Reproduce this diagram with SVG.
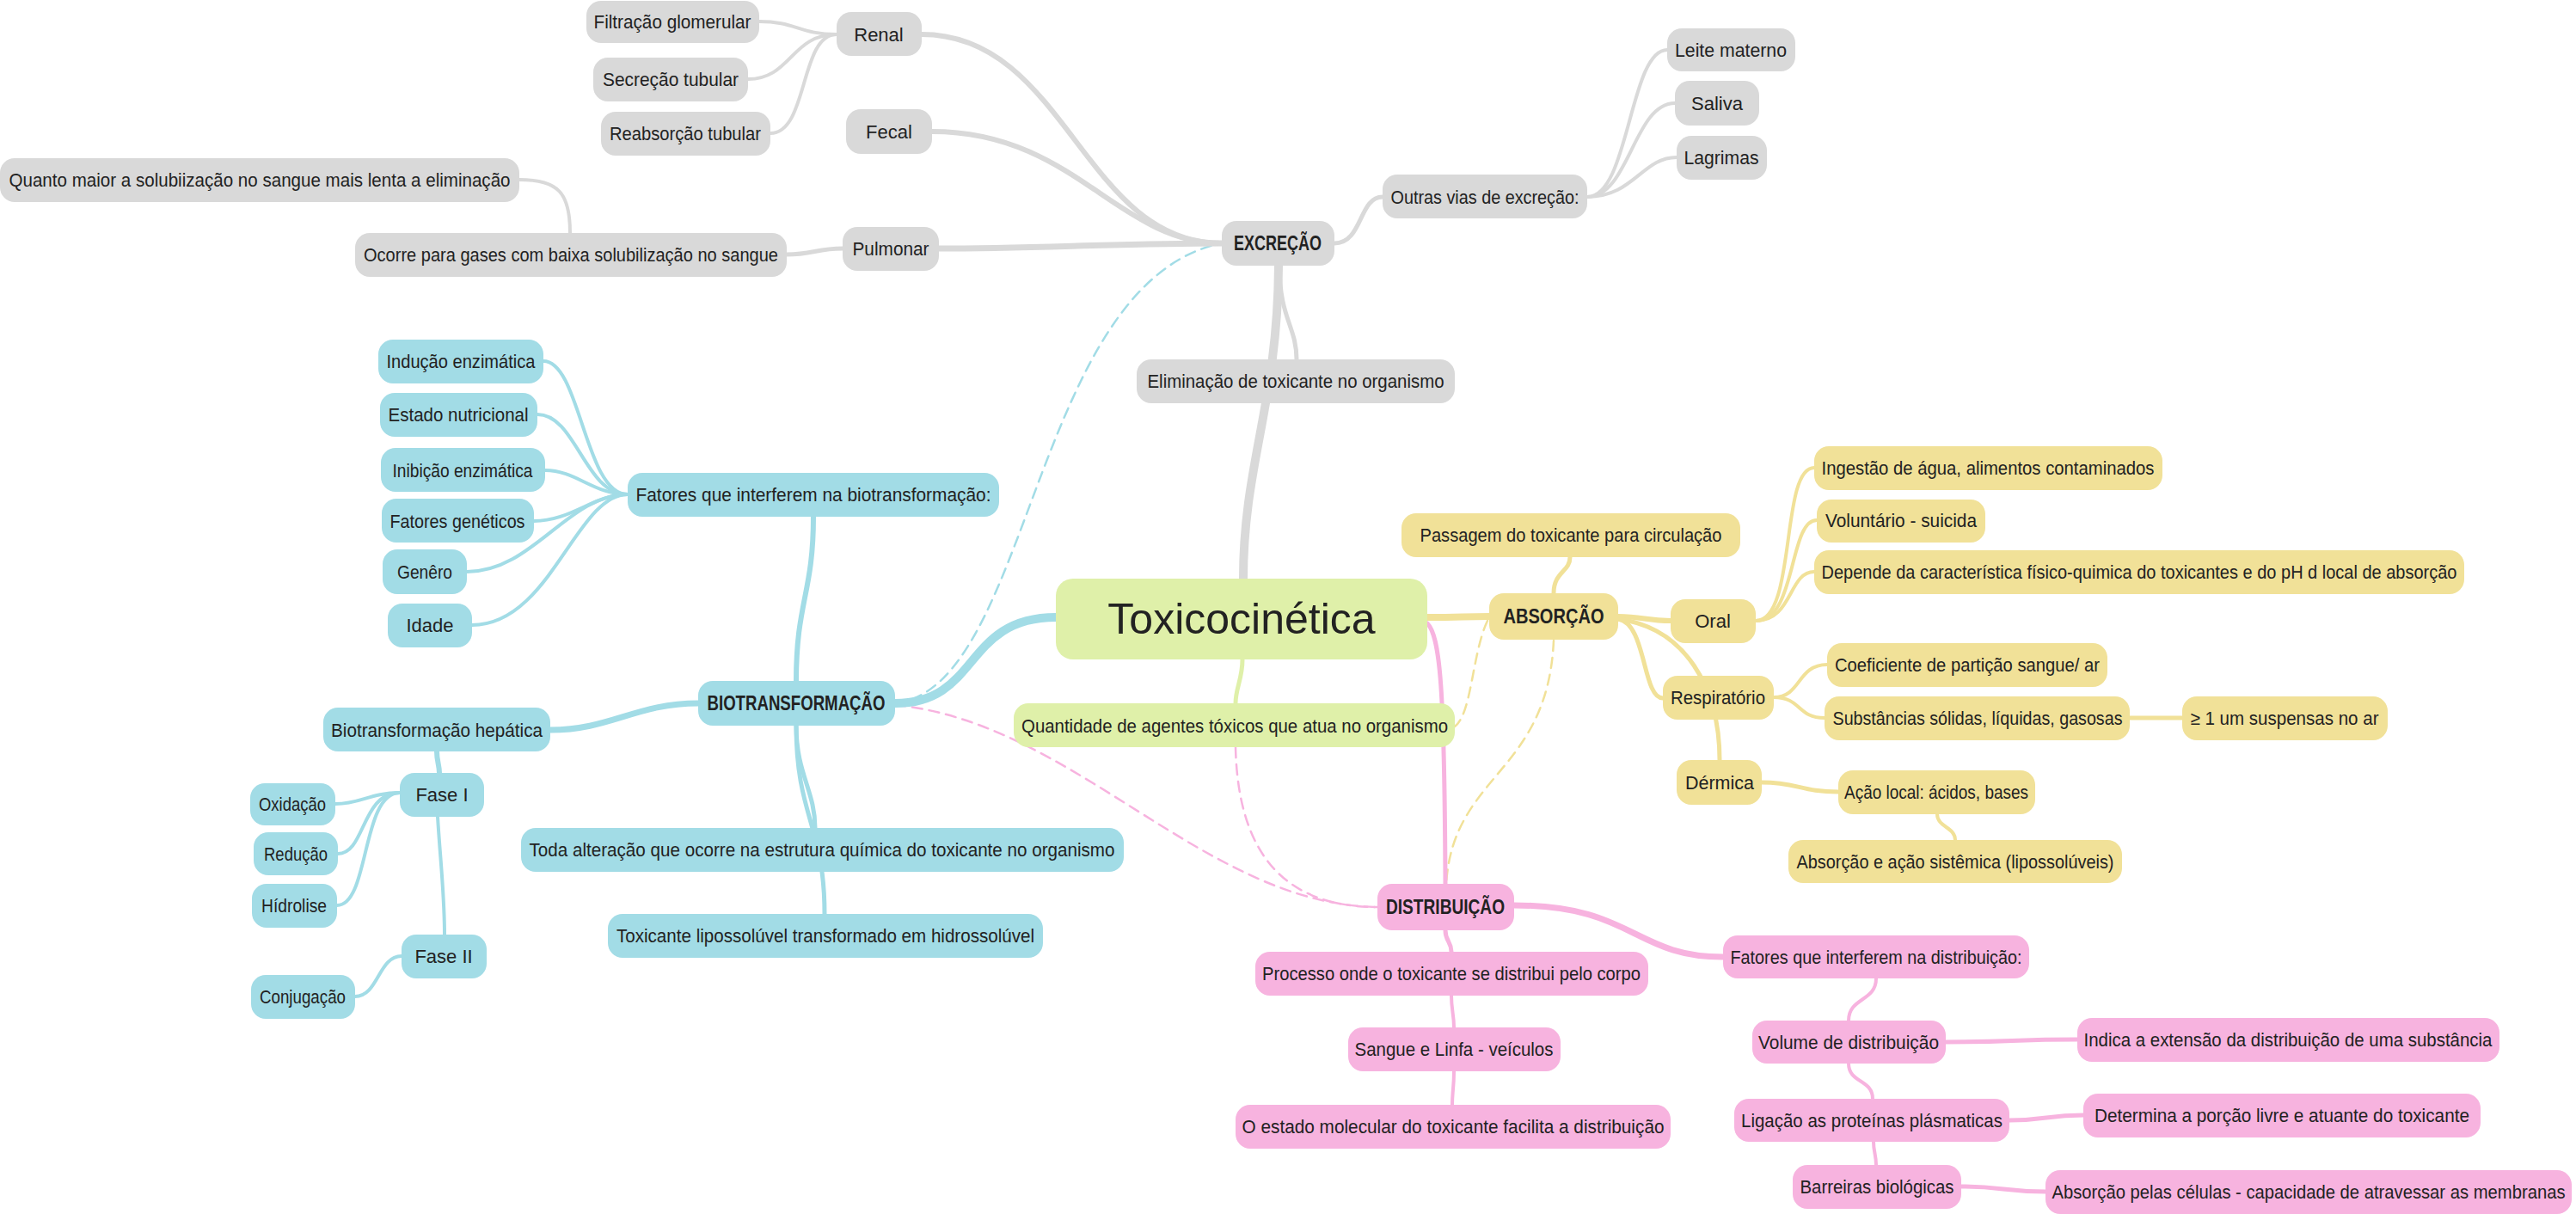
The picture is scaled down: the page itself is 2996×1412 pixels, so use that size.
<svg xmlns="http://www.w3.org/2000/svg" width="2996" height="1412" viewBox="0 0 2996 1412">
<style>
text{font-family:"Liberation Sans",Arial,sans-serif;font-size:22px;fill:#222;text-anchor:middle;dominant-baseline:central}
.h{font-weight:bold;font-size:23px}
.t{font-size:50px}
.g rect{fill:#d9d9d9}
.b rect{fill:#a2dce6}
.gr rect{fill:#dff0a9}
.y rect{fill:#f1e198}
.p rect{fill:#f7b3df}
path{fill:none;stroke-linecap:round}
.cg{stroke:#d9d9d9}
.cb{stroke:#a2dce6}
.cgr{stroke:#dff0a9}
.cy{stroke:#f1e198}
.cp{stroke:#f7b3df}
.d{stroke-width:2.5;stroke-dasharray:12 8}
</style>
<rect width="2996" height="1412" fill="#fff"/>
<g id="connectors">
<path class="cb d" d="M1041,818 C1200,800 1200,330 1420,283"/>
<path class="cp d" d="M1041,820 C1250,840 1400,1052 1602,1055"/>
<path class="cp d" d="M1437,869 C1440,1000 1500,1055 1602,1055"/>
<path class="cy d" d="M1730,722 C1712,760 1712,830 1692,845"/>
<path class="cy d" d="M1807,745 C1800,900 1690,900 1682,1028"/>
<path class="cg" stroke-width="10" d="M1446,673 C1446,540 1486,470 1487,309"/>
<path class="cg" stroke-width="5" d="M1488,309 C1488,370 1508,380 1508,418"/>
<path class="cg" stroke-width="7" d="M1421,283 C1300,283 1200,289 1092,289"/>
<path class="cg" stroke-width="6" d="M1421,283 C1300,283 1250,153 1084,153"/>
<path class="cg" stroke-width="6" d="M1421,283 C1260,283 1240,40 1072,40"/>
<path class="cg" stroke-width="5" d="M1552,283 C1585,283 1580,229 1608,229"/>
<path class="cg" stroke-width="4" d="M1846,229 C1895,229 1895,58 1939,58"/>
<path class="cg" stroke-width="4" d="M1846,229 C1895,229 1900,120 1948,120"/>
<path class="cg" stroke-width="4" d="M1846,229 C1900,229 1910,183 1950,183"/>
<path class="cg" stroke-width="4" d="M973,40 C930,40 925,25 883,25"/>
<path class="cg" stroke-width="4" d="M973,40 C920,40 920,92 870,92"/>
<path class="cg" stroke-width="4" d="M973,40 C930,40 940,155 896,155"/>
<path class="cg" stroke-width="5" d="M980,289 C950,289 945,296 915,296"/>
<path class="cg" stroke-width="4" d="M663,271 C663,225 650,209 604,209"/>
<path class="cb" stroke-width="10" d="M1228,718 C1120,718 1140,818 1041,818"/>
<path class="cb" stroke-width="6" d="M926,792 C926,700 946,690 946,601"/>
<path class="cb" stroke-width="4" d="M730,575 C680,575 675,420 632,420"/>
<path class="cb" stroke-width="4" d="M730,575 C680,575 670,482 625,482"/>
<path class="cb" stroke-width="4" d="M730,575 C690,575 670,547 634,547"/>
<path class="cb" stroke-width="4" d="M730,575 C690,575 665,606 621,606"/>
<path class="cb" stroke-width="4" d="M730,575 C660,575 620,665 543,665"/>
<path class="cb" stroke-width="4" d="M730,575 C670,575 640,727 549,727"/>
<path class="cb" stroke-width="7" d="M812,818 C740,818 710,849 640,849"/>
<path class="cb" stroke-width="5" d="M926,844 C926,900 948,920 948,963"/>
<path class="cb" stroke-width="5" d="M926,844 C926,950 959,960 959,1063"/>
<path class="cb" stroke-width="6" d="M508,874 C508,885 511,890 511,899"/>
<path class="cb" stroke-width="4" d="M509,950 C512,1000 517,1040 517,1087"/>
<path class="cb" stroke-width="4" d="M465,922 C430,922 420,935 390,935"/>
<path class="cb" stroke-width="4" d="M465,922 C420,922 425,993 393,993"/>
<path class="cb" stroke-width="4" d="M465,922 C420,922 430,1053 392,1053"/>
<path class="cb" stroke-width="4" d="M467,1112 C440,1112 440,1159 413,1159"/>
<path class="cgr" stroke-width="5" d="M1445,767 C1445,790 1437,800 1437,818"/>
<path class="cy" stroke-width="8" d="M1660,718 C1700,718 1700,717 1732,717"/>
<path class="cy" stroke-width="5" d="M1807,690 C1807,665 1826,665 1826,648"/>
<path class="cy" stroke-width="6" d="M1882,717 C1910,717 1915,722 1943,722"/>
<path class="cy" stroke-width="5" d="M1882,720 C1915,725 1910,812 1934,812"/>
<path class="cy" stroke-width="5" d="M1882,720 C1960,730 2000,800 2000,884"/>
<path class="cy" stroke-width="4" d="M2042,722 C2090,722 2070,544 2110,544"/>
<path class="cy" stroke-width="4" d="M2042,722 C2090,722 2080,605 2113,605"/>
<path class="cy" stroke-width="4" d="M2042,722 C2085,722 2080,665 2110,665"/>
<path class="cy" stroke-width="4" d="M2063,811 C2095,811 2090,773 2125,773"/>
<path class="cy" stroke-width="4" d="M2063,811 C2095,811 2090,835 2122,835"/>
<path class="cy" stroke-width="5" d="M2477,835 C2510,835 2505,835 2538,835"/>
<path class="cy" stroke-width="5" d="M2049,910 C2090,910 2095,921 2138,921"/>
<path class="cy" stroke-width="4" d="M2253,947 C2253,962 2274,962 2274,977"/>
<path class="cp" stroke-width="5" d="M1660,725 C1675,740 1680,800 1681,1028"/>
<path class="cp" stroke-width="7" d="M1761,1053 C1900,1053 1900,1113 2004,1113"/>
<path class="cp" stroke-width="5" d="M1681,1082 C1681,1095 1688,1095 1688,1107"/>
<path class="cp" stroke-width="4" d="M1688,1158 C1688,1175 1691,1180 1691,1195"/>
<path class="cp" stroke-width="4" d="M1691,1246 C1691,1265 1689,1270 1689,1285"/>
<path class="cp" stroke-width="4" d="M2182,1138 C2182,1165 2150,1160 2150,1187"/>
<path class="cp" stroke-width="5" d="M2263,1212 C2340,1212 2340,1209 2416,1209"/>
<path class="cp" stroke-width="4" d="M2150,1237 C2150,1260 2178,1255 2178,1278"/>
<path class="cp" stroke-width="5" d="M2337,1303 C2380,1303 2380,1297 2423,1297"/>
<path class="cp" stroke-width="4" d="M2179,1328 C2179,1340 2182,1343 2182,1355"/>
<path class="cp" stroke-width="5" d="M2281,1380 C2330,1380 2330,1386 2379,1386"/>
</g>
<g id="filtracao" class="g"><rect x="682" y="1" width="201" height="49" rx="17"/><text x="782" y="25" textLength="183" lengthAdjust="spacingAndGlyphs">Filtração glomerular</text></g>
<g id="renal" class="g"><rect x="973" y="14" width="99" height="51" rx="17"/><text x="1022" y="40">Renal</text></g>
<g id="secrecao" class="g"><rect x="690" y="67" width="180" height="51" rx="17"/><text x="780" y="92" textLength="158" lengthAdjust="spacingAndGlyphs">Secreção tubular</text></g>
<g id="reabsorcao" class="g"><rect x="699" y="130" width="197" height="51" rx="17"/><text x="797" y="155" textLength="176" lengthAdjust="spacingAndGlyphs">Reabsorção tubular</text></g>
<g id="fecal" class="g"><rect x="984" y="127" width="100" height="52" rx="17"/><text x="1034" y="153">Fecal</text></g>
<g id="quanto" class="g"><rect x="0" y="184" width="604" height="51" rx="17"/><text x="302" y="209" textLength="583" lengthAdjust="spacingAndGlyphs">Quanto maior a solubiização no sangue mais lenta a eliminação</text></g>
<g id="ocorre" class="g"><rect x="413" y="271" width="502" height="51" rx="17"/><text x="664" y="296" textLength="482" lengthAdjust="spacingAndGlyphs">Ocorre para gases com baixa solubilização no sangue</text></g>
<g id="pulmonar" class="g"><rect x="980" y="264" width="112" height="51" rx="17"/><text x="1036" y="289" textLength="89" lengthAdjust="spacingAndGlyphs">Pulmonar</text></g>
<g id="excrecao" class="g"><rect x="1421" y="257" width="131" height="52" rx="17"/><text class="h" x="1486" y="283" textLength="102" lengthAdjust="spacingAndGlyphs">EXCREÇÃO</text></g>
<g id="outras" class="g"><rect x="1608" y="203" width="238" height="51" rx="17"/><text x="1727" y="229" textLength="219" lengthAdjust="spacingAndGlyphs">Outras vias de excreção:</text></g>
<g id="leite" class="g"><rect x="1939" y="33" width="149" height="50" rx="17"/><text x="2013" y="58" textLength="130" lengthAdjust="spacingAndGlyphs">Leite materno</text></g>
<g id="saliva" class="g"><rect x="1948" y="94" width="98" height="52" rx="17"/><text x="1997" y="120">Saliva</text></g>
<g id="lagrimas" class="g"><rect x="1950" y="158" width="105" height="51" rx="17"/><text x="2002" y="183" textLength="87" lengthAdjust="spacingAndGlyphs">Lagrimas</text></g>
<g id="eliminacao" class="g"><rect x="1322" y="418" width="370" height="51" rx="17"/><text x="1507" y="443" textLength="345" lengthAdjust="spacingAndGlyphs">Eliminação de toxicante no organismo</text></g>
<g id="inducao" class="b"><rect x="440" y="395" width="192" height="51" rx="17"/><text x="536" y="420" textLength="173" lengthAdjust="spacingAndGlyphs">Indução enzimática</text></g>
<g id="estado" class="b"><rect x="442" y="457" width="183" height="51" rx="17"/><text x="533" y="482" textLength="163" lengthAdjust="spacingAndGlyphs">Estado nutricional</text></g>
<g id="inibicao" class="b"><rect x="443" y="521" width="191" height="51" rx="17"/><text x="538" y="547" textLength="163" lengthAdjust="spacingAndGlyphs">Inibição enzimática</text></g>
<g id="fatgen" class="b"><rect x="444" y="580" width="177" height="51" rx="17"/><text x="532" y="606" textLength="157" lengthAdjust="spacingAndGlyphs">Fatores genéticos</text></g>
<g id="genero" class="b"><rect x="445" y="639" width="98" height="52" rx="17"/><text x="494" y="665" textLength="64" lengthAdjust="spacingAndGlyphs">Genêro</text></g>
<g id="idade" class="b"><rect x="451" y="702" width="98" height="51" rx="17"/><text x="500" y="727">Idade</text></g>
<g id="fatbio" class="b"><rect x="730" y="550" width="432" height="51" rx="17"/><text x="946" y="575" textLength="413" lengthAdjust="spacingAndGlyphs">Fatores que interferem na biotransformação:</text></g>
<g id="bio" class="b"><rect x="812" y="792" width="229" height="52" rx="17"/><text class="h" x="926" y="818" textLength="207" lengthAdjust="spacingAndGlyphs">BIOTRANSFORMAÇÃO</text></g>
<g id="biohep" class="b"><rect x="376" y="823" width="264" height="51" rx="17"/><text x="508" y="849" textLength="246" lengthAdjust="spacingAndGlyphs">Biotransformação hepática</text></g>
<g id="fase1" class="b"><rect x="465" y="899" width="98" height="51" rx="17"/><text x="514" y="924">Fase I</text></g>
<g id="oxidacao" class="b"><rect x="291" y="911" width="99" height="49" rx="17"/><text x="340" y="935" textLength="78" lengthAdjust="spacingAndGlyphs">Oxidação</text></g>
<g id="reducao" class="b"><rect x="295" y="968" width="98" height="50" rx="17"/><text x="344" y="993" textLength="74" lengthAdjust="spacingAndGlyphs">Redução</text></g>
<g id="hidrolise" class="b"><rect x="293" y="1028" width="99" height="51" rx="17"/><text x="342" y="1053" textLength="76" lengthAdjust="spacingAndGlyphs">Hídrolise</text></g>
<g id="fase2" class="b"><rect x="467" y="1087" width="99" height="51" rx="17"/><text x="516" y="1112">Fase II</text></g>
<g id="conjugacao" class="b"><rect x="292" y="1134" width="121" height="51" rx="17"/><text x="352" y="1159" textLength="100" lengthAdjust="spacingAndGlyphs">Conjugação</text></g>
<g id="toda" class="b"><rect x="606" y="963" width="701" height="51" rx="17"/><text x="956" y="988" textLength="681" lengthAdjust="spacingAndGlyphs">Toda alteração que ocorre na estrutura química do toxicante no organismo</text></g>
<g id="toxlipo" class="b"><rect x="707" y="1063" width="506" height="51" rx="17"/><text x="960" y="1088" textLength="486" lengthAdjust="spacingAndGlyphs">Toxicante lipossolúvel transformado em hidrossolúvel</text></g>
<g id="toxicocinetica" class="gr"><rect x="1228" y="673" width="432" height="94" rx="20"/><text class="t" x="1444" y="720">Toxicocinética</text></g>
<g id="quantidade" class="gr"><rect x="1179" y="818" width="513" height="51" rx="17"/><text x="1436" y="844" textLength="496" lengthAdjust="spacingAndGlyphs">Quantidade de agentes tóxicos que atua no organismo</text></g>
<g id="absorcao" class="y"><rect x="1732" y="690" width="150" height="54" rx="17"/><text class="h" x="1807" y="717" textLength="117" lengthAdjust="spacingAndGlyphs">ABSORÇÃO</text></g>
<g id="passagem" class="y"><rect x="1630" y="597" width="394" height="51" rx="17"/><text x="1827" y="622" textLength="351" lengthAdjust="spacingAndGlyphs">Passagem do toxicante para circulação</text></g>
<g id="oral" class="y"><rect x="1943" y="697" width="99" height="51" rx="17"/><text x="1992" y="722">Oral</text></g>
<g id="respiratorio" class="y"><rect x="1934" y="786" width="129" height="51" rx="17"/><text x="1998" y="811" textLength="110" lengthAdjust="spacingAndGlyphs">Respiratório</text></g>
<g id="dermica" class="y"><rect x="1950" y="884" width="99" height="52" rx="17"/><text x="2000" y="910" textLength="80" lengthAdjust="spacingAndGlyphs">Dérmica</text></g>
<g id="ingestao" class="y"><rect x="2110" y="519" width="405" height="51" rx="17"/><text x="2312" y="544" textLength="387" lengthAdjust="spacingAndGlyphs">Ingestão de água, alimentos contaminados</text></g>
<g id="voluntario" class="y"><rect x="2113" y="581" width="196" height="50" rx="17"/><text x="2211" y="605" textLength="176" lengthAdjust="spacingAndGlyphs">Voluntário - suicida</text></g>
<g id="depende" class="y"><rect x="2110" y="640" width="756" height="51" rx="17"/><text x="2488" y="665" textLength="739" lengthAdjust="spacingAndGlyphs">Depende da característica físico-quimica do toxicantes e do pH d local de absorção</text></g>
<g id="coeficiente" class="y"><rect x="2125" y="748" width="326" height="51" rx="17"/><text x="2288" y="773" textLength="308" lengthAdjust="spacingAndGlyphs">Coeficiente de partição sangue/ ar</text></g>
<g id="substancias" class="y"><rect x="2122" y="810" width="355" height="51" rx="17"/><text x="2300" y="835" textLength="337" lengthAdjust="spacingAndGlyphs">Substâncias sólidas, líquidas, gasosas</text></g>
<g id="suspensas" class="y"><rect x="2538" y="810" width="239" height="51" rx="17"/><text x="2657" y="835" textLength="219" lengthAdjust="spacingAndGlyphs">≥ 1 um suspensas no ar</text></g>
<g id="acaolocal" class="y"><rect x="2138" y="896" width="229" height="51" rx="17"/><text x="2252" y="921" textLength="214" lengthAdjust="spacingAndGlyphs">Ação local: ácidos, bases</text></g>
<g id="acaosistemica" class="y"><rect x="2080" y="977" width="388" height="50" rx="17"/><text x="2274" y="1002" textLength="369" lengthAdjust="spacingAndGlyphs">Absorção e ação sistêmica (lipossolúveis)</text></g>
<g id="distribuicao" class="p"><rect x="1602" y="1028" width="159" height="54" rx="17"/><text class="h" x="1681" y="1055" textLength="138" lengthAdjust="spacingAndGlyphs">DISTRIBUIÇÃO</text></g>
<g id="fatdist" class="p"><rect x="2004" y="1088" width="356" height="50" rx="17"/><text x="2182" y="1113" textLength="339" lengthAdjust="spacingAndGlyphs">Fatores que interferem na distribuição:</text></g>
<g id="processo" class="p"><rect x="1460" y="1107" width="457" height="51" rx="17"/><text x="1688" y="1132" textLength="440" lengthAdjust="spacingAndGlyphs">Processo onde o toxicante se distribui pelo corpo</text></g>
<g id="sangue" class="p"><rect x="1568" y="1195" width="247" height="51" rx="17"/><text x="1691" y="1220" textLength="231" lengthAdjust="spacingAndGlyphs">Sangue e Linfa - veículos</text></g>
<g id="estadomol" class="p"><rect x="1437" y="1285" width="506" height="51" rx="17"/><text x="1690" y="1310" textLength="491" lengthAdjust="spacingAndGlyphs">O estado molecular do toxicante facilita a distribuição</text></g>
<g id="volume" class="p"><rect x="2038" y="1187" width="225" height="50" rx="17"/><text x="2150" y="1212" textLength="210" lengthAdjust="spacingAndGlyphs">Volume de distribuição</text></g>
<g id="indica" class="p"><rect x="2416" y="1184" width="491" height="51" rx="17"/><text x="2661" y="1209" textLength="475" lengthAdjust="spacingAndGlyphs">Indica a extensão da distribuição de uma substância</text></g>
<g id="ligacao" class="p"><rect x="2017" y="1278" width="320" height="50" rx="17"/><text x="2177" y="1303" textLength="304" lengthAdjust="spacingAndGlyphs">Ligação as proteínas plásmaticas</text></g>
<g id="determina" class="p"><rect x="2423" y="1272" width="462" height="51" rx="17"/><text x="2654" y="1297" textLength="436" lengthAdjust="spacingAndGlyphs">Determina a porção livre e atuante do toxicante</text></g>
<g id="barreiras" class="p"><rect x="2085" y="1355" width="196" height="51" rx="17"/><text x="2183" y="1380" textLength="179" lengthAdjust="spacingAndGlyphs">Barreiras biológicas</text></g>
<g id="abscelulas" class="p"><rect x="2379" y="1361" width="612" height="51" rx="17"/><text x="2685" y="1386" textLength="597" lengthAdjust="spacingAndGlyphs">Absorção pelas células - capacidade de atravessar as membranas</text></g>
</svg>
